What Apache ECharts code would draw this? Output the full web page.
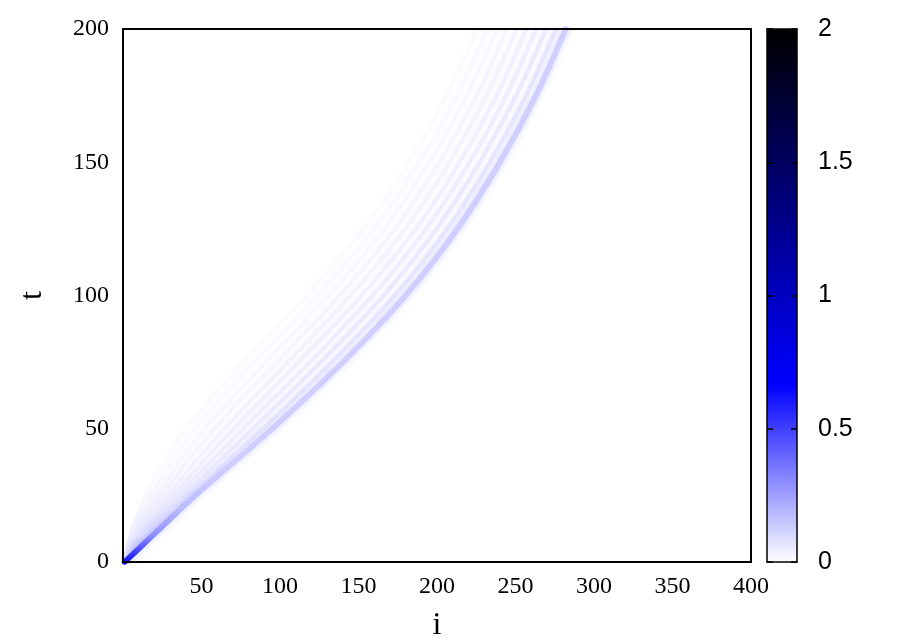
<!DOCTYPE html>
<html>
<head>
<meta charset="utf-8">
<script src="https://cdn.jsdelivr.net/npm/echarts@6/dist/echarts.min.js"></script>
<style>
  html, body { margin: 0; padding: 0; background: #fff; }
  #chart { width: 919px; height: 643px; }
</style>
</head>
<body>
<div id="chart"></div>
<script>
const tSamples = [0, 10, 25, 50, 75, 100, 125, 150, 175, 200];

// position i of each ridge at tSamples; first row is the leading front
const ridgePos = [
  [1, 19, 46, 95, 140, 180, 213, 240, 263, 282],
  [1, 17.4, 42.5, 88.9, 133, 173, 206.4, 233.6, 256.7, 275.7],
  [1, 15.8, 39, 82.8, 126, 166, 199.7, 227.2, 250.4, 269.5],
  [1, 14.3, 35.6, 76.6, 119, 159, 193.1, 220.8, 244.2, 263.2],
  [1, 12.7, 32.1, 70.5, 112, 152, 186.5, 214.4, 237.9, 257],
  [1, 11.1, 28.6, 64.4, 105, 145, 179.8, 208, 231.6, 250.7],
  [1, 9.5, 25.1, 58.3, 98, 138, 173.2, 201.6, 225.3, 244.4],
  [1, 7.9, 21.7, 52.2, 91, 131, 166.6, 195.2, 219.1, 238.2],
  [1, 6.3, 18.2, 46, 84, 124, 160, 188.8, 212.8, 231.9],
  [1, 4.8, 14.7, 39.9, 77, 117, 153.3, 182.4, 206.5, 225.6]
];

// intensity of each ridge at levelT (constant after the last sample)
const levelT = [0, 10, 20, 30, 40];
const ridgeLevel = [
  [0.62, 0.29, 0.18, 0.14, 0.125],
  [0.55, 0.2, 0.11, 0.08, 0.065],
  [0.5, 0.17, 0.095, 0.066, 0.054],
  [0.45, 0.15, 0.08, 0.055, 0.045],
  [0.4, 0.13, 0.068, 0.046, 0.038],
  [0.35, 0.11, 0.058, 0.038, 0.031],
  [0.3, 0.095, 0.049, 0.031, 0.025],
  [0.25, 0.08, 0.041, 0.025, 0.02],
  [0.2, 0.066, 0.033, 0.02, 0.015],
  [0.16, 0.055, 0.027, 0.015, 0.011]
];

const xTicks = [0, 400, 50];
const yTicks = [0, 200, 50];
const cbTicks = [0, 2, 0.5];

// palette: white -> blue (at 2/3) -> black
function palette(v) {
  const p = v / cbTicks[1] * 3;
  let r, g, b;
  if (p < 1) {
    r = g = Math.round(255 * (1 - p));
    b = 255;
  } else {
    r = g = 0;
    b = Math.round(255 * (1 - (p - 1) / 2));
  }
  return 'rgb(' + r + ',' + g + ',' + b + ')';
}

const serif = 'Liberation Serif';
const sans = 'Liberation Sans';

const myChart = echarts.init(document.getElementById('chart'), null, { renderer: 'canvas' });

const frameAxis = {
  z: 10,
  axisTick: { show: false },
  splitLine: { show: false },
  axisLine: { show: true, onZero: false, lineStyle: { color: '#000', width: 2 } }
};
const cbLine = { show: true, onZero: false, lineStyle: { color: '#000', width: 1.5 } };
const cbTick = { show: true, inside: true, length: 6, lineStyle: { color: '#000', width: 1.5 } };

const nRidges = ridgePos.length;
const series = [];
const ridgeMaps = [];
// draw from the faintest trailing ridge to the leading front
for (let k = nRidges - 1; k >= 0; k--) {
  const idx = series.length;
  const last = ridgeLevel[k][levelT.length - 1];
  series.push({
    type: 'line',
    xAxisIndex: 0,
    yAxisIndex: 0,
    smooth: 0.3,
    showSymbol: false,
    silent: true,
    animation: false,
    z: 3,
    lineStyle: {
      width: k === 0 ? 5.5 : 3.8,
      cap: 'round',
      shadowColor: palette(last),
      shadowBlur: k === 0 ? 6 : 4
    },
    data: tSamples.map((t, j) => [ridgePos[k][j], t])
  });
  ridgeMaps.push({
    type: 'continuous',
    show: false,
    dimension: 1,
    seriesIndex: idx,
    min: levelT[0],
    max: levelT[levelT.length - 1],
    inRange: { color: ridgeLevel[k].map(palette) },
    outOfRange: { color: palette(last) }
  });
}

myChart.setOption({
  animation: false,
  backgroundColor: '#fff',
  grid: [
    { left: 123, top: 29, width: 628, height: 533, outerBoundsMode: 'none' },
    { left: 767, top: 29, width: 30, height: 533, outerBoundsMode: 'none' }
  ],
  xAxis: [
    {
      ...frameAxis,
      gridIndex: 0,
      type: 'value',
      min: xTicks[0],
      max: xTicks[1],
      interval: xTicks[2],
      position: 'bottom',
      name: 'i',
      nameLocation: 'middle',
      nameGap: 48,
      nameTextStyle: { fontFamily: serif, fontSize: 32, color: '#000' },
      axisLabel: { showMinLabel: false, margin: 13, fontFamily: serif, fontSize: 24, color: '#000' }
    },
    {
      ...frameAxis,
      gridIndex: 0,
      type: 'value',
      min: xTicks[0],
      max: xTicks[1],
      position: 'top',
      axisLabel: { show: false }
    },
    {
      ...frameAxis,
      gridIndex: 1,
      type: 'value',
      min: 0,
      max: 1,
      position: 'bottom',
      axisLine: cbLine,
      axisLabel: { show: false }
    },
    {
      ...frameAxis,
      gridIndex: 1,
      type: 'value',
      min: 0,
      max: 1,
      position: 'top',
      axisLine: cbLine,
      axisLabel: { show: false }
    }
  ],
  yAxis: [
    {
      ...frameAxis,
      gridIndex: 0,
      type: 'value',
      min: yTicks[0],
      max: yTicks[1],
      interval: yTicks[2],
      position: 'left',
      name: 't',
      nameLocation: 'middle',
      nameGap: 74,
      nameTextStyle: { fontFamily: serif, fontSize: 32, color: '#000' },
      axisLabel: { margin: 14, fontFamily: serif, fontSize: 24, color: '#000' }
    },
    {
      ...frameAxis,
      gridIndex: 0,
      type: 'value',
      min: yTicks[0],
      max: yTicks[1],
      position: 'right',
      axisLabel: { show: false }
    },
    {
      ...frameAxis,
      gridIndex: 1,
      type: 'value',
      min: cbTicks[0],
      max: cbTicks[1],
      interval: cbTicks[2],
      position: 'left',
      axisLine: cbLine,
      axisTick: cbTick,
      axisLabel: { show: false }
    },
    {
      ...frameAxis,
      gridIndex: 1,
      type: 'value',
      min: cbTicks[0],
      max: cbTicks[1],
      interval: cbTicks[2],
      position: 'right',
      axisLine: cbLine,
      axisTick: cbTick,
      axisLabel: { margin: 21, fontFamily: sans, fontSize: 25, color: '#000' }
    }
  ],
  visualMap: [
    {
      type: 'continuous',
      seriesIndex: [],
      min: cbTicks[0],
      max: cbTicks[1],
      orient: 'vertical',
      left: 767,
      top: 29,
      padding: 0,
      itemWidth: 30,
      itemHeight: 533,
      calculable: false,
      hoverLink: false,
      text: null,
      inRange: { color: ['#ffffff', '#0000ff', '#000080', '#000000'] }
    },
    ...ridgeMaps
  ],
  series: series
});
</script>
</body>
</html>
